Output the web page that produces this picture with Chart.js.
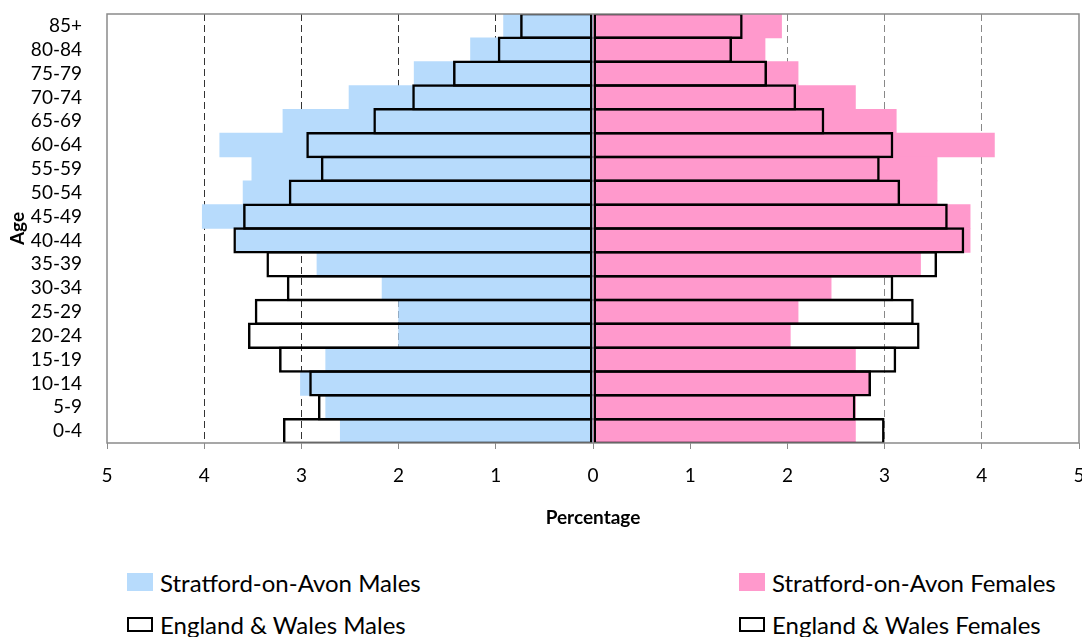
<!DOCTYPE html>
<html>
<head>
<meta charset="utf-8">
<script src="https://cdn.jsdelivr.net/npm/chart.js@4.4.0/dist/chart.umd.min.js"></script>
<style>
    body { margin: 0; background: #fff; font-family: Lato, "Open Sans", sans-serif; }
    #wrap { position: relative; width: 1082px; height: 637px; overflow: hidden; }
    #chart { position: absolute; left: 0; top: 0; }
    .lg { position: absolute; display: flex; align-items: center; font-size: 24px; color: #000; white-space: nowrap; height: 30px; }
    .lg .box { width: 26px; height: 18px; margin-right: 7px; box-sizing: border-box; }
    .lg .box.outline { height: 15px; border: 2px solid #000; background: transparent; }
</style>
</head>
<body>
<div id="wrap">
    <canvas id="chart" width="1082" height="540"></canvas>
    <div id="legend"></div>
</div>
<script>
// age bands, top of the pyramid first
var ageGroups = ['85+', '80-84', '75-79', '70-74', '65-69', '60-64', '55-59', '50-54', '45-49',
    '40-44', '35-39', '30-34', '25-29', '20-24', '15-19', '10-14', '5-9', '0-4'];

// percentage of population in each band
var stratfordMales = [0.92, 1.26, 1.84, 2.51, 3.19, 3.84, 3.51, 3.60, 4.02,
    3.67, 2.84, 2.17, 2.00, 2.00, 2.75, 3.01, 2.75, 2.60];
var stratfordFemales = [1.94, 1.77, 2.11, 2.70, 3.12, 4.13, 3.54, 3.54, 3.88,
    3.88, 3.37, 2.45, 2.11, 2.03, 2.70, 2.84, 2.70, 2.70];
var ewMales = [0.75, 0.98, 1.44, 1.86, 2.26, 2.95, 2.80, 3.13, 3.60,
    3.70, 3.36, 3.15, 3.48, 3.55, 3.23, 2.92, 2.83, 3.19];
var ewFemales = [1.54, 1.43, 1.79, 2.09, 2.38, 3.09, 2.95, 3.16, 3.65,
    3.82, 3.54, 3.09, 3.30, 3.36, 3.12, 2.86, 2.70, 3.00];

var xMin = -5;
var xMax = 5;

var blue = '#B7DBFC';
var pink = '#FF99CC';

function neg(arr) {
    return arr.map(function (v) { return -v; });
}

// draws the grey frame round the plot area
var frame = {
    id: 'frame',
    afterDatasetsDraw: function (chart) {
        var a = chart.chartArea;
        var ctx = chart.ctx;
        ctx.save();
        ctx.strokeStyle = '#8a8a8a';
        ctx.lineWidth = 1.5;
        ctx.strokeRect(a.left, a.top, a.right - a.left, a.bottom - a.top);
        ctx.restore();
    }
};

var outlineWidth = 2.5;
var outlineBar = 1.105; // lets neighbouring outlines share one edge

var data = {
    labels: ageGroups,
    datasets: [{
        label: 'England & Wales Males',
        data: neg(ewMales),
        backgroundColor: 'rgba(0,0,0,0)',
        borderColor: '#000',
        borderWidth: outlineWidth,
        borderSkipped: false,
        barPercentage: outlineBar,
        order: 0
    }, {
        label: 'England & Wales Females',
        data: ewFemales,
        backgroundColor: 'rgba(0,0,0,0)',
        borderColor: '#000',
        borderWidth: outlineWidth,
        borderSkipped: false,
        barPercentage: outlineBar,
        order: 0
    }, {
        label: 'Stratford-on-Avon Males',
        data: neg(stratfordMales),
        backgroundColor: blue,
        borderWidth: 0,
        order: 1
    }, {
        label: 'Stratford-on-Avon Females',
        data: stratfordFemales,
        backgroundColor: pink,
        borderWidth: 0,
        order: 1
    }]
};

var config = {
    type: 'bar',
    data: data,
    options: {
        indexAxis: 'y',
        responsive: false,
        animation: false,
        grouped: false,
        barPercentage: 1,
        categoryPercentage: 1,
        layout: { padding: { top: 14, right: 3, bottom: 11, left: 0 } },
        plugins: {
            legend: { display: false },
            tooltip: { enabled: false }
        },
        scales: {
            x: {
                type: 'linear',
                min: xMin,
                max: xMax,
                afterFit: function (scale) {
                    scale.height = 86;
                    scale.paddingLeft = 0;
                    scale.paddingRight = 0;
                },
                ticks: {
                    stepSize: 1,
                    padding: 15,
                    color: '#000',
                    font: { family: 'Lato', size: 19 },
                    callback: function (v) { return Math.abs(v); }
                },
                grid: {
                    drawOnChartArea: true,
                    tickLength: 6,
                    tickColor: '#8a8a8a',
                    lineWidth: 1,
                    color: function (c) {
                        var v = c.tick ? c.tick.value : 0;
                        if (v === 0 || v === xMin || v === xMax) return 'rgba(0,0,0,0)';
                        return v < 0 ? '#333' : '#888';
                    }
                },
                border: { display: false, dash: [7, 4] },
                title: {
                    display: true,
                    text: 'Percentage',
                    color: '#000',
                    padding: 0,
                    font: { family: 'Lato', size: 19, weight: 'bold' }
                }
            },
            y: {
                type: 'category',
                afterFit: function (scale) {
                    scale.width = 107;
                    scale.paddingTop = 0;
                    scale.paddingBottom = 0;
                },
                grid: { display: false, drawTicks: false },
                border: { display: false },
                ticks: {
                    padding: 25,
                    color: '#000',
                    autoSkip: false,
                    font: { family: 'Lato', size: 19 }
                },
                title: {
                    display: true,
                    text: 'Age',
                    color: '#000',
                    padding: 6,
                    font: { family: 'Lato', size: 19, weight: 'bold' }
                }
            }
        }
    },
    plugins: [frame]
};

var chart = new Chart(document.getElementById('chart'), config);

// legend: Stratford series on the first row, England & Wales below
function buildLegend(chart) {
    var box = document.getElementById('legend');
    var cols = [127, 739];
    var rows = [567, 609];
    var order = [2, 3, 0, 1];
    order.forEach(function (di, i) {
        var ds = chart.data.datasets[di];
        var item = document.createElement('div');
        item.className = 'lg';
        item.style.left = cols[i % 2] + 'px';
        item.style.top = rows[Math.floor(i / 2)] + 'px';
        var sw = document.createElement('span');
        sw.className = 'box';
        if (ds.borderWidth > 0) {
            sw.className += ' outline';
        } else {
            sw.style.background = ds.backgroundColor;
        }
        var txt = document.createElement('span');
        txt.textContent = ds.label;
        item.appendChild(sw);
        item.appendChild(txt);
        box.appendChild(item);
    });
}
buildLegend(chart);
</script>
</body>
</html>
